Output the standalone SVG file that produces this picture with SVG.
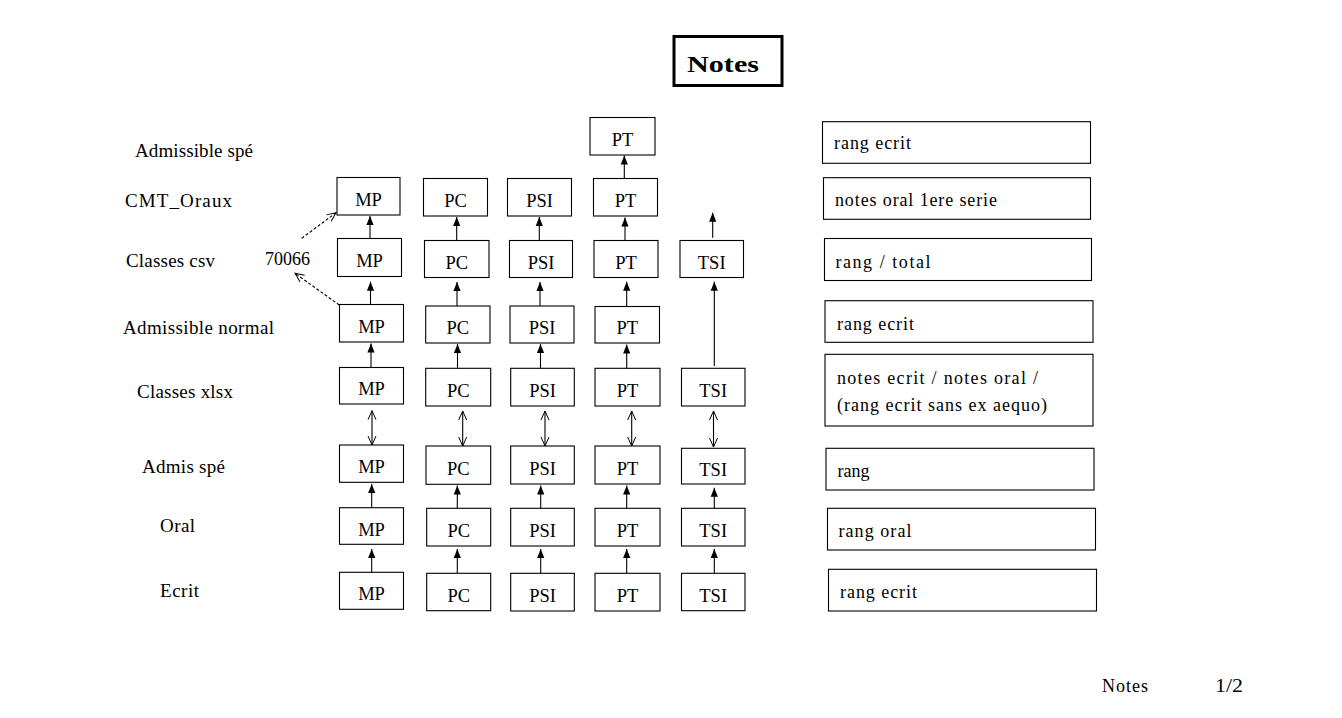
<svg xmlns="http://www.w3.org/2000/svg" width="1342" height="718" viewBox="0 0 1342 718" font-family="'Liberation Serif', serif" font-size="18">
<style>
.t{text-anchor:middle;font-size:18.5px}
.n{fill:#fff;stroke:#000;stroke-width:1.1}
.c line{stroke:#000;stroke-width:1.1;fill:none}
.s{marker-end:url(#ah)}
.d{marker-end:url(#oh);marker-start:url(#oh)}
.da{stroke-dasharray:3 2;marker-end:url(#oh)}
</style>
<defs>
<marker id="ah" viewBox="0 0 10 8" refX="10" refY="4" markerWidth="9" markerHeight="8" markerUnits="userSpaceOnUse" orient="auto">
<path d="M0,0 L10,4 L0,8 z" fill="#000"/>
</marker>
<marker id="oh" viewBox="-1 -1 11 10" refX="9" refY="4" markerWidth="11" markerHeight="10" markerUnits="userSpaceOnUse" orient="auto-start-reverse">
<path d="M0,0 L9,4 L0,8" fill="none" stroke="#000" stroke-width="1"/>
</marker>
</defs>
<rect width="1342" height="718" fill="#fff"/>

<g id="title">
<rect x="674" y="36.5" width="108" height="49" fill="#fff" stroke="#000" stroke-width="3"/>
<text x="687" y="72" font-weight="bold" font-size="23" textLength="72" lengthAdjust="spacingAndGlyphs">Notes</text>
</g>

<g id="labels">
<text x="135" y="157" font-size="19" textLength="118">Admissible spé</text>
<text x="125" y="207" font-size="19" textLength="107">CMT_Oraux</text>
<text x="126" y="267" font-size="19" textLength="89">Classes csv</text>
<text x="265" y="265" font-size="19" textLength="45" lengthAdjust="spacingAndGlyphs">70066</text>
<text x="123" y="334" font-size="19" textLength="151">Admissible normal</text>
<text x="137" y="398" font-size="19" textLength="96">Classes xlsx</text>
<text x="142" y="473" font-size="19" textLength="83">Admis spé</text>
<text x="160" y="531.5" font-size="19" textLength="35">Oral</text>
<text x="160" y="596.5" font-size="19" textLength="39">Ecrit</text>
</g>

<g id="pt-spe"><rect class="n" x="590" y="117.5" width="65" height="37.5"/><text class="t" x="622.5" y="146">PT</text></g>

<g id="mp-cmt"><rect class="n" x="337" y="177.5" width="63" height="37.5"/><text class="t" x="368.5" y="205.7">MP</text></g>
<g id="pc-cmt"><rect class="n" x="423.5" y="178.5" width="64" height="37.5"/><text class="t" x="455.5" y="206.7">PC</text></g>
<g id="psi-cmt"><rect class="n" x="507.5" y="178.5" width="64" height="37.5"/><text class="t" x="539.5" y="206.7">PSI</text></g>
<g id="pt-cmt"><rect class="n" x="593.5" y="178.5" width="64" height="37.5"/><text class="t" x="625.5" y="206.7">PT</text></g>

<g id="mp-csv"><rect class="n" x="337.5" y="238.5" width="64" height="38"/><text class="t" x="369.5" y="267">MP</text></g>
<g id="pc-csv"><rect class="n" x="424.5" y="240.5" width="64.5" height="37"/><text class="t" x="456.7" y="268.5">PC</text></g>
<g id="psi-csv"><rect class="n" x="509.5" y="240.5" width="63" height="37"/><text class="t" x="541" y="268.5">PSI</text></g>
<g id="pt-csv"><rect class="n" x="594" y="240.5" width="64" height="37"/><text class="t" x="626" y="268.5">PT</text></g>
<g id="tsi-csv"><rect class="n" x="680" y="240.5" width="63.5" height="37"/><text class="t" x="711.7" y="268.5">TSI</text></g>

<g id="mp-adm"><rect class="n" x="339.5" y="304.5" width="64" height="37.5"/><text class="t" x="371.5" y="332.7">MP</text></g>
<g id="pc-adm"><rect class="n" x="425.7" y="306" width="64.3" height="37"/><text class="t" x="457.8" y="334">PC</text></g>
<g id="psi-adm"><rect class="n" x="510" y="306" width="64" height="37"/><text class="t" x="542" y="334">PSI</text></g>
<g id="pt-adm"><rect class="n" x="595" y="306.5" width="64.5" height="36.5"/><text class="t" x="627.2" y="334.2">PT</text></g>

<g id="mp-xlsx"><rect class="n" x="339.5" y="367.5" width="64" height="36.5"/><text class="t" x="371.5" y="395.2">MP</text></g>
<g id="pc-xlsx"><rect class="n" x="425.7" y="368.3" width="65" height="37.7"/><text class="t" x="458.2" y="396.7">PC</text></g>
<g id="psi-xlsx"><rect class="n" x="510.7" y="368.3" width="63.6" height="37.7"/><text class="t" x="542.5" y="396.7">PSI</text></g>
<g id="pt-xlsx"><rect class="n" x="595" y="368.3" width="65" height="37.7"/><text class="t" x="627.5" y="396.7">PT</text></g>
<g id="tsi-xlsx"><rect class="n" x="681.5" y="368.3" width="63.5" height="37.7"/><text class="t" x="713.2" y="396.7">TSI</text></g>

<g id="mp-admis"><rect class="n" x="339.5" y="445" width="64" height="37.3"/><text class="t" x="371.5" y="473.2">MP</text></g>
<g id="pc-admis"><rect class="n" x="426" y="446" width="64.7" height="38.3"/><text class="t" x="458.3" y="474.6">PC</text></g>
<g id="psi-admis"><rect class="n" x="510.7" y="446" width="63.6" height="38"/><text class="t" x="542.5" y="474.5">PSI</text></g>
<g id="pt-admis"><rect class="n" x="595" y="446" width="65" height="38"/><text class="t" x="627.5" y="474.5">PT</text></g>
<g id="tsi-admis"><rect class="n" x="681.5" y="448.3" width="63.5" height="35.7"/><text class="t" x="713.2" y="475.6">TSI</text></g>

<g id="mp-oral"><rect class="n" x="339.5" y="507.7" width="64" height="36.6"/><text class="t" x="371.5" y="535.5">MP</text></g>
<g id="pc-oral"><rect class="n" x="426.7" y="508.3" width="64" height="37.7"/><text class="t" x="458.7" y="536.7">PC</text></g>
<g id="psi-oral"><rect class="n" x="510.7" y="508.3" width="63.6" height="37.7"/><text class="t" x="542.5" y="536.7">PSI</text></g>
<g id="pt-oral"><rect class="n" x="595" y="508.3" width="65" height="37.7"/><text class="t" x="627.5" y="536.7">PT</text></g>
<g id="tsi-oral"><rect class="n" x="681.5" y="508.3" width="63.5" height="37.7"/><text class="t" x="713.2" y="536.7">TSI</text></g>

<g id="mp-ecrit"><rect class="n" x="339.5" y="572.3" width="64" height="37"/><text class="t" x="371.5" y="600.3">MP</text></g>
<g id="pc-ecrit"><rect class="n" x="426.7" y="573.3" width="64" height="37.4"/><text class="t" x="458.7" y="601.5">PC</text></g>
<g id="psi-ecrit"><rect class="n" x="510.7" y="573.3" width="63.6" height="37.7"/><text class="t" x="542.5" y="601.5">PSI</text></g>
<g id="pt-ecrit"><rect class="n" x="595" y="573.3" width="65" height="37.7"/><text class="t" x="627.5" y="601.5">PT</text></g>
<g id="tsi-ecrit"><rect class="n" x="681.5" y="573.3" width="63.5" height="37.4"/><text class="t" x="713.2" y="601.5">TSI</text></g>

<g id="r1"><rect class="n" x="822.5" y="121.7" width="268" height="41.6"/><text x="834" y="149" textLength="77">rang ecrit</text></g>
<g id="r2"><rect class="n" x="823.5" y="177.7" width="267" height="41.6"/><text x="835" y="206" textLength="162">notes oral 1ere serie</text></g>
<g id="r3"><rect class="n" x="824.5" y="238.5" width="267" height="42"/><text x="835.5" y="267.5" textLength="95">rang / total</text></g>
<g id="r4"><rect class="n" x="825" y="300.7" width="268" height="41.6"/><text x="837" y="329.5" textLength="77">rang ecrit</text></g>
<g id="r5"><rect class="n" x="825" y="354.3" width="268" height="71.7"/><text x="837" y="384" textLength="201">notes ecrit / notes oral /</text><text x="837" y="411" textLength="210">(rang ecrit sans ex aequo)</text></g>
<g id="r6"><rect class="n" x="826" y="448.3" width="268" height="41.7"/><text x="837.5" y="477">rang</text></g>
<g id="r7"><rect class="n" x="827.5" y="508.3" width="268" height="41.7"/><text x="838.5" y="537" textLength="73">rang oral</text></g>
<g id="r8"><rect class="n" x="828.5" y="569.3" width="268" height="41.7"/><text x="840" y="597.5" textLength="77">rang ecrit</text></g>

<g id="connectors" class="c">
<line class="s" x1="624.3" y1="178.5" x2="624.3" y2="155.5"/>
<line class="s" x1="370" y1="238.5" x2="370" y2="216"/>
<line class="s" x1="456.7" y1="240.5" x2="456.7" y2="217"/>
<line class="s" x1="539.3" y1="240.5" x2="539.3" y2="217"/>
<line class="s" x1="625" y1="240.5" x2="625" y2="217.5"/>
<line class="s" x1="712.7" y1="237.7" x2="712.7" y2="212.7"/>
<line class="s" x1="370.5" y1="304.5" x2="370.5" y2="281.7"/>
<line class="s" x1="457" y1="306" x2="457" y2="282"/>
<line class="s" x1="540" y1="306" x2="540" y2="282"/>
<line class="s" x1="626.7" y1="306.5" x2="626.7" y2="281.7"/>
<line class="s" x1="714.3" y1="366" x2="714.3" y2="281.7"/>
<line class="s" x1="371" y1="367.5" x2="371" y2="343.5"/>
<line class="s" x1="457.5" y1="368.3" x2="457.5" y2="344"/>
<line class="s" x1="540.5" y1="368.3" x2="540.5" y2="344"/>
<line class="s" x1="626.7" y1="368.3" x2="626.7" y2="344.5"/>
<line class="d" x1="372" y1="410.7" x2="372" y2="445"/>
<line class="d" x1="462.7" y1="411" x2="462.7" y2="446"/>
<line class="d" x1="545" y1="411" x2="545" y2="446"/>
<line class="d" x1="631.7" y1="411" x2="631.7" y2="446"/>
<line class="d" x1="713.5" y1="411" x2="713.5" y2="447"/>
<line class="s" x1="371.7" y1="507.7" x2="371.7" y2="484"/>
<line class="s" x1="457.3" y1="508.3" x2="457.3" y2="485.5"/>
<line class="s" x1="540.7" y1="508.3" x2="540.7" y2="485.5"/>
<line class="s" x1="626.7" y1="508.3" x2="626.7" y2="485.5"/>
<line class="s" x1="714.3" y1="508.3" x2="714.3" y2="487.7"/>
<line class="s" x1="371.7" y1="572.3" x2="371.7" y2="549"/>
<line class="s" x1="457.3" y1="573.3" x2="457.3" y2="549"/>
<line class="s" x1="540.7" y1="573.3" x2="540.7" y2="549"/>
<line class="s" x1="626.7" y1="573.3" x2="626.7" y2="549"/>
<line class="s" x1="714.3" y1="573.3" x2="714.3" y2="549"/>
<line class="da" x1="301.7" y1="238.3" x2="336" y2="212.7" stroke-width="0.8"/>
<line class="da" x1="339.3" y1="305" x2="295" y2="273.3" stroke-width="0.8"/>
</g>

<g id="footer">
<text x="1102" y="692" textLength="46">Notes</text>
<text x="1215" y="692" textLength="28" lengthAdjust="spacingAndGlyphs">1/2</text>
</g>
</svg>
